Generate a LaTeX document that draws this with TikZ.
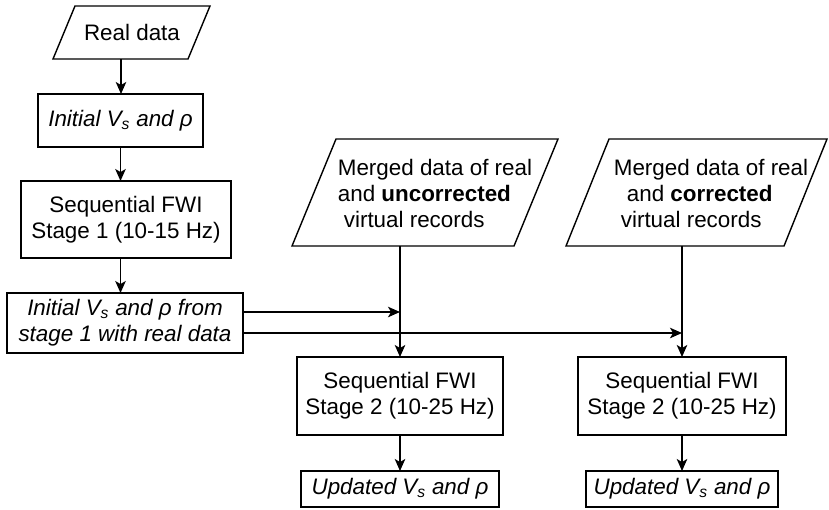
\documentclass[tikz,border=0pt]{standalone}
\usepackage{fontspec}
\setmainfont{Liberation Sans}
\usetikzlibrary{arrows.meta}
\begin{document}
\begin{tikzpicture}[x=1pt,y=-1pt,
  every node/.style={font=\fontsize{22.4}{26}\selectfont, inner sep=0pt, outer sep=0pt},
  box/.style={draw, line width=1.4pt, align=center},
  ital/.style={font=\fontsize{22.4}{26}\selectfont\itshape},
  shp/.style={line width=1.4pt, line join=miter},
  arr/.style={line width=1.4pt, -{Stealth[length=12pt,width=10.5pt,inset=3pt]}}]
\useasboundingbox (0,0) rectangle (829,509);

% left column
\node (rd) at (132,32.5) {Real data};
\draw[shp] (75,6) -- (210,6) -- (188,59) -- (53,59) -- cycle;
\coordinate (rdb) at (121,59);
\node[box, ital, minimum width=165pt, minimum height=53pt] (b2) at (120.5,120.5) {Initial V\textsubscript{s} and ρ};
\node[box, minimum width=210pt, minimum height=77pt] (b3) at (126,219.5) {Sequential FWI\\Stage 1 (10-15 Hz)};
\node[box, ital, minimum width=236pt, minimum height=60pt] (b4) at (125,323) {Initial V\textsubscript{s} and ρ from\\stage 1 with real data};

\draw[arr] (rdb) -- (rdb |- b2.north);
\draw[arr] (b2.south) -- (b2.south |- b3.north);
\draw[arr] (b2.south |- b3.south) -- (b2.south |- b4.north);

% merged data inputs
\draw[shp] (336,139) -- (558,139) -- (514,246) -- (292,246) -- cycle;
\node[align=left] (m1) at (435,193) {Merged data of real\\and \textbf{uncorrected}\\\hspace*{6pt}virtual records};
\coordinate (m1b) at (400,246);

\draw[shp] (609,139) -- (827,139) -- (784,246) -- (566,246) -- cycle;
\node[align=left] (m2) at (711,193) {Merged data of real\\\hspace*{13pt}and \textbf{corrected}\\\hspace*{7pt}virtual records};
\coordinate (m2b) at (682,246);

% stage 2
\node[box, minimum width=206pt, minimum height=78pt] (s2a) at (400,396) {Sequential FWI\\Stage 2 (10-25 Hz)};
\node[box, minimum width=208pt, minimum height=78pt] (s2b) at (682,396) {Sequential FWI\\Stage 2 (10-25 Hz)};
\node[box, ital, minimum width=198pt, minimum height=36pt] (ua) at (400,489) {Updated V\textsubscript{s} and ρ};
\node[box, ital, minimum width=192pt, minimum height=36pt] (ub) at (682,489) {Updated V\textsubscript{s} and ρ};

\coordinate (j1) at (400,312);
\coordinate (j2) at (682,333);
\draw[arr] (m1b) -- (s2a.north);
\draw[arr] (m2b) -- (s2b.north);
\draw[arr] (b4.east |- j1) -- (j1);
\draw[arr] (b4.east |- j2) -- (j2);
\draw[arr] (s2a.south) -- (ua.north);
\draw[arr] (s2b.south) -- (ub.north);
\end{tikzpicture}
\end{document}
